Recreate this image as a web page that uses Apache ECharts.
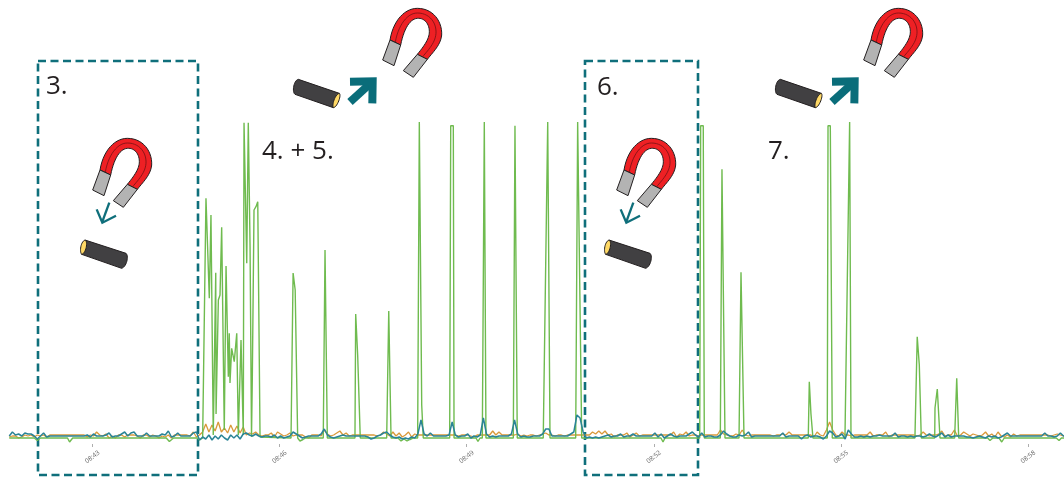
<!DOCTYPE html>
<html>
<head>
<meta charset="utf-8">
<style>html,body{margin:0;padding:0;background:#fff}#c{width:1064px;height:477px}</style>
<script src="https://cdn.jsdelivr.net/npm/echarts@6/dist/echarts.min.js"></script>
</head>
<body>
<div id="c"></div>
<script>
// Time is in seconds since 08:40:00.
const tickLabels = ['08:40','08:43','08:46','08:49','08:52','08:55','08:58','09:01'];

const greenTimes = [100,124,127,130,156,158,161,251,254,258,281,283,286,
287.3,289.2,292.4,294,296.2,298.6,298.9,301.1,302.7,304.3,306.8,308.5,310.7,311.6,312.3,313.9,316.4,318.8,320.3,322.9,325.1,325.8,328.4,329.9,331.6,333,333.8,335.4,337.3,339,341.2,
371,373,375,377.4,379.6,382.5,385,
402,403.7,405.9,
432.5,433.2,435.1,437.6,
463,465,467.2,
473.9,476.8,479.7,482.6,485.4,488.3,
492.8,494.4,496.7,498.2,
523.6,524.6,527.1,527.8,
548.9,550.8,552.8,
555,556.9,558.5,
584.8,586.4,587.4,588.6,
613.6,617.9,620.1,
644.8,646.7,650.6,
726.8,728.8,730.7,
764.1,765,767.5,768.5,
783.9,785.5,788.4,
801.9,803.8,806.7,
868.5,869.5,871.1,873,
886.8,887.5,889.7,891.6,
903.8,908.3,909.6,
971.1,973.3,975.3,977.2,
990.1,990.4,992.6,995.2,
1009.3,1011.3,1013.2,
1041,1043.3,1046,1052,1054.6,1057,1107,1109.7,1112,1117];
const greenValues = [6,6,3.5,6,6,2,6,6,2.5,6,6,4,6,
6,245.7,145.7,229,9,171.3,30,144,149,216.7,14,178,67.3,110.7,61,95.7,82.3,110.7,9,104,9,321.3,180.7,321.3,197.3,7,69,234,237.3,242.3,7,
6,171,154,6,3,4.5,6,
6,194,6,
6,130,89,6,
6,133,6,
6,3,5,3,4.5,6,
6,322,39,6,
6,318.3,318.3,6,
6,2.5,6,
6,322,6,
6,318.3,318.3,6,
6,322,6,
6,322,6,
6,2,6,
6,318.3,318.3,6,
6,274.7,6,
6,171.7,6,
6,62.3,30,6,
6,318.3,318.3,6,
6,322,6,
6,107.3,79,6,
6,36,55,6,
6,65.7,6,
6,3.5,6,6,2,6,6,3.5,6,6];

// One row per minute, one sample every three seconds, starting at sampleStart.
const sampleStart = 100;
const sampleStep = 3;
const blueValues = [
8,12,9,10,8,11,10,10,8,5,8,11,7,8,8,8,8,8,8,8,
8,8,8,8,8,9,7,10,8,8,8,9,11,7,8,8,10,12,8,11,
12,8,8,8,11,8,8,8,8,10,9,13,7,8,11,8,8,8,8,11,
12,4,7,5,9,4,8,5,9,6,4,9,6,9,5,10,11,9,8,10,
8,7,8,8,7,9,6,8,6,7,8,12,10,8,6,7,8,8,8,8,
10,15,9,7,6,7,8,9,8,8,8,8,8,8,8,7,5,6,8,9,
11,12,9,7,6,7,5,6,5,7,6,10,24,10,8,11,8,8,8,8,
8,9,22,9,7,8,8,10,6,8,7,9,26,10,7,8,7,8,8,8,
8,10,24,10,7,8,7,7,8,8,8,10,15,15,8,8,8,8,8,8,
10,12,29,26,12,6,7,6,7,6,7,8,9,7,8,8,10,7,8,8,
10,8,8,8,8,8,8,11,7,10,6,8,10,8,7,8,8,8,10,12,
9,7,11,7,8,8,7,7,9,13,10,8,7,7,9,8,9,12,7,8,
8,8,8,8,8,8,8,8,11,7,8,8,8,8,5,8,9,7,8,8,
7,5,8,13,11,7,8,10,5,14,10,7,7,8,7,8,7,8,8,9,
8,8,8,8,11,7,8,8,7,8,7,8,8,7,8,10,8,7,9,11,
7,9,7,8,8,8,8,7,7,6,7,8,7,6,8,7,8,6,7,9,
11,8,8,8,8,8,8,8,8,8,8,8,11,8,8,7,8,11,8,8];
const orangeValues = [
7,8,8,6,7,9,8,9,7,9,8,9,7,9,9,9,9,9,9,9,
9,9,9,9,9,7,9,8,12,9,8,10,6,8,6,9,9,7,9,9,
9,8,6,9,9,7,9,8,6,8,7,9,6,9,9,9,9,9,8,12,
7,9,12,20,12,19,13,22,12,16,11,19,12,18,11,17,9,11,10,12,
9,8,9,9,11,7,12,10,8,9,11,8,9,9,9,7,6,9,9,9,
8,14,10,8,9,11,13,9,11,8,9,9,9,9,9,9,9,9,8,9,
12,10,8,12,8,11,7,9,12,7,10,9,9,9,9,9,9,9,9,9,
9,9,9,9,8,9,9,9,8,7,9,9,9,9,9,13,9,12,9,9,
9,9,9,10,8,9,8,9,9,8,9,10,11,9,9,8,9,9,8,9,
9,9,9,9,9,9,9,12,10,13,10,13,9,10,7,9,9,9,11,7,
9,11,8,9,9,9,9,9,9,9,9,9,9,12,7,10,9,12,8,9,
9,8,9,9,9,9,9,9,14,10,9,8,8,10,9,14,9,8,9,9,
9,9,9,9,9,8,9,9,10,9,12,9,9,9,9,9,9,9,7,12,
9,8,14,22,14,9,8,12,9,9,8,9,9,9,9,9,12,8,9,9,
9,12,7,9,9,9,9,9,9,9,9,8,9,12,9,8,9,9,10,13,
8,9,9,14,8,9,12,10,8,10,9,8,9,12,8,10,7,12,8,7,
9,7,10,8,9,9,9,9,9,9,9,9,9,9,8,9,10,9,8,9];

const pairs = (ts, vs) => vs.map((v, i) => [ts[i], v]);
const sampled = vs => vs.map((v, i) => [sampleStart + i * sampleStep, v]);

// --- illustration helpers (drawn at 1/3 scale, like the crops they were read from) ---
const TEAL = '#0f6f7b', INK = '#231f20';
function bez(a, b, c, d) {
  const out = [];
  for (let k = 1; k <= 14; k++) {
    const t = k / 14, u = 1 - t;
    out.push([
      u*u*u*a[0] + 3*u*u*t*b[0] + 3*u*t*t*c[0] + t*t*t*d[0],
      u*u*u*a[1] + 3*u*u*t*b[1] + 3*u*t*t*c[1] + t*t*t*d[1]
    ]);
  }
  return out;
}
function chain(start, segs) {
  let pts = [start], cur = start;
  segs.forEach(s => {
    if (typeof s[0] === 'number') { pts.push(s); cur = s; }
    else if (s.length === 1) { pts.push(s[0]); cur = s[0]; }
    else { pts = pts.concat(bez(cur, s[0], s[1], s[2])); cur = s[2]; }
  });
  return pts;
}
const poly = (points, fill, lw) => ({type:'polygon', shape:{points}, style:{fill, stroke:INK, lineWidth:lw === undefined ? 3 : lw}});
const line = (points, stroke, lineWidth, extra) => ({type:'polyline', shape:{points}, style:Object.assign({fill:null, stroke, lineWidth, lineJoin:'miter', miterLimit:10}, extra||{})});
const group = (x, y, children) => ({type:'group', x, y, scaleX:1/3, scaleY:1/3, children});

function magnet(x, y) {
  return group(x, y, [
    poly(chain([180,360], [[[190,300],[225,265],[262,265]], [[310,265],[337,305],[335,345]], [[332,375],[310,395],[292,418]], [[262,403]], [[285,375],[298,355],[298,335]], [[298,310],[282,293],[262,295]], [[240,297],[222,325],[212,375]]]), '#ee2024'),
    line(chain([196,366], [[[205,315],[232,279],[262,279]], [[300,279],[320,310],[318,340]], [[316,368],[295,390],[277,411]]]), '#7a1214', 2.5),
    poly([[180,360],[212,375],[192,437],[158,420]], '#b3b3b3'),
    poly([[262,403],[292,418],[250,472],[220,452]], '#b3b3b3')
  ]);
}
function thinArrow(x, y) {
  return group(x, y, [
    line([[208,458],[187,515]], TEAL, 7),
    line([[170,478],[187,518],[228,497]], TEAL, 7)
  ]);
}
function bigArrow(x, y) {
  return group(x, y, [
    line([[210,306],[278,244]], '#0a6d7a', 24),
    line([[210,245],[278,244],[277,310]], '#0a6d7a', 24)
  ]);
}
function cylCapLeft(x, y) {
  return group(x, y, [
    poly(chain([135,570], [[258,610], [[267,618],[260,650],[245,655]], [125,613]]), '#414042'),
    poly(chain([135,570], [[[122,575],[118,605],[125,613]], [[138,610],[145,575],[135,570]]]), '#ffd966')
  ]);
}
function cylCapRight(x, y) {
  return group(x, y, [
    poly(chain([55,238], [[178,280], [160,323], [45,283], [[35,275],[42,240],[55,238]]]), '#414042'),
    poly(chain([178,280], [[[165,283],[155,315],[160,323]], [[172,322],[185,285],[178,280]]]), '#ffd966')
  ]);
}
const box = (x, y, width, height) => ({type:'rect', shape:{x, y, width, height}, style:{fill:null, stroke:TEAL, lineWidth:2.6, lineDash:[8,4.5]}});
const note = (text, x, y) => ({type:'text', x, y, style:{text, font:'26px "Open Sans"', fill:INK, verticalAlign:'middle'}});

const chart = echarts.init(document.getElementById('c'), null, {renderer:'canvas'});
chart.setOption({
  animation:false,
  backgroundColor:'#fff',
  grid:{left:-94.7, width:1310, top:122, height:322, containLabel:false, outerBoundsMode:'none'},
  xAxis:{
    type:'value', min:0, max:1260, interval:180,
    axisLine:{show:false},
    splitLine:{show:false},
    axisTick:{show:true, length:3, lineStyle:{color:'#777', width:0.6}},
    axisLabel:{
      rotate:38, fontSize:6.5, color:'#666', margin:13, align:'center', verticalAlign:'middle',
      fontFamily:'"Open Sans"',
      formatter:v => tickLabels[Math.round(v / 180)]
    }
  },
  yAxis:{type:'value', min:0, max:322, show:false, splitLine:{show:false}},
  series:[
    {type:'line', name:'orange', data:sampled(orangeValues), showSymbol:false, symbol:'none', z:2, lineStyle:{color:'#d9993a', width:1.3}},
    {type:'line', name:'green', data:pairs(greenTimes, greenValues), showSymbol:false, symbol:'none', z:3, lineStyle:{color:'#6fbb4f', width:1.4}},
    {type:'line', name:'blue', data:sampled(blueValues), showSymbol:false, symbol:'none', z:4, lineStyle:{color:'#2a8496', width:1.5}}
  ],
  graphic:[
    box(38,61,160,414), box(585,61,113,414),
    note('3.',46,87), note('4. + 5.',262,152), note('6.',597,88), note('7.',768,152),
    magnet(40,50), thinArrow(40,50), cylCapLeft(40,50),
    magnet(564,50), thinArrow(564,50), cylCapLeft(564,50),
    magnet(330,-80), cylCapRight(280,0), bigArrow(280,0),
    magnet(811,-80), cylCapRight(762,0), bigArrow(762,0)
  ]
});
</script>
</body>
</html>
